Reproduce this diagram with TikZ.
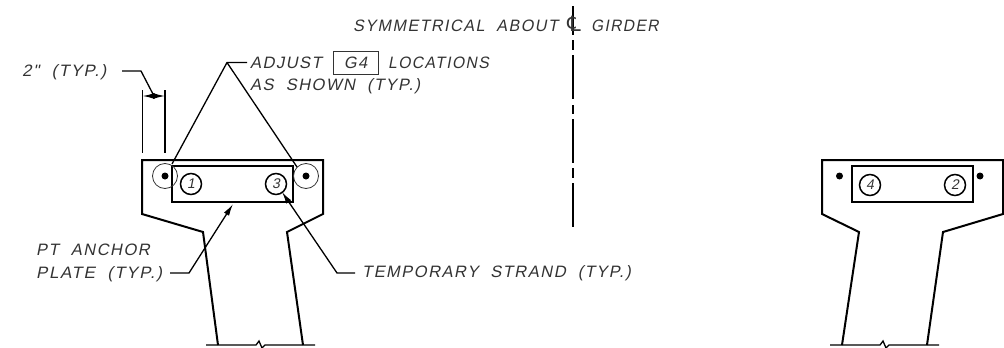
\documentclass[tikz,border=0pt]{standalone}
\usepackage{fontspec}
\usepackage{graphicx}
\usetikzlibrary{arrows.meta}
\newfontfamily\hand{Liberation Sans}[FakeSlant=0.2,LetterSpace=9,WordSpace=2]
\newfontfamily\symb{DejaVu Sans}
\newcommand{\fitw}[2]{\scalebox{#1}[1]{#2}}
\definecolor{ink}{HTML}{000000}
\definecolor{txt}{HTML}{333333}
\tikzset{
  heavy/.style={line width=2pt,draw=ink,line join=miter},
  thin line/.style={line width=1.3pt,draw=ink},
  label text/.style={font=\hand\fontsize{16.5}{16.5}\selectfont,text=txt,inner sep=0pt,anchor=west},
  num/.style={circle,draw=ink,line width=1.5pt,minimum size=21pt,inner sep=0pt,font=\hand\fontsize{14}{14}\selectfont,text=txt},
  ring/.style={circle,draw=txt,line width=.8pt,minimum size=25pt,inner sep=0pt},
  dot/.style={circle,fill=ink,minimum size=7pt,inner sep=0pt},
  tip/.style={-{Latex[length=12pt,width=6pt]}},
}
\begin{document}
\begin{tikzpicture}[x=1pt,y=-1pt]
\useasboundingbox (0,0) rectangle (1004,348);
% left section
\draw[heavy] (218,345) -- (203,232) -- (142,214) -- (142,160) -- (323,160) -- (323,214) -- (287,232) -- (303,345);
\draw[thin line] (206,345) -- (256,345) -- (259,341) -- (262,348) -- (265,345) -- (315,345);
\draw[heavy] (172,166) rectangle (293,202);
\node[num] (n1) at (191,184) {1};
\node[num] (n3) at (276,184) {3};
\node[ring] (r1) at (165,176) {};
\node[ring] (r2) at (306,176) {};
\node[dot] (d1) at (165,176) {};
\node[dot] (d2) at (306,176) {};
% right section
\draw[heavy] (842,345) -- (859,232) -- (822,214) -- (822,160) -- (1003,160) -- (1003,214) -- (943,232) -- (927,345);
\draw[thin line] (830,345) -- (880,345) -- (883,341) -- (886,348) -- (889,345) -- (939,345);
\draw[heavy] (852,166) rectangle (973,202);
\node[num] (n4) at (870,185) {4};
\node[num] (n2) at (955,185) {2};
\node[dot] (d3) at (839.5,176) {};
\node[dot] (d4) at (980,176) {};
% centre line
\coordinate (cla) at (573,6);
\coordinate (clb) at (573,227);
\draw[thin line,dash pattern=on 29pt off 5pt on 10pt off 5pt on 44pt off 6pt on 9pt off 5pt on 44pt off 5pt on 10pt off 5pt on 44pt] (cla) -- (clb);
% labels
\node[label text] (sym) at (353,26) {\fitw{0.98}{SYMMETRICAL ABOUT}};
\node[font=\symb\fontsize{21}{21}\selectfont,text=txt,inner sep=0pt] (cl) at (574,24) {℄};
\node[label text] (gird) at (591,26) {\fitw{0.94}{GIRDER}};
\node[label text] (two) at (22,72) {\fitw{1.03}{2" (TYP.)}};
\node[label text] (adj) at (250,63) {ADJUST};
\node[draw=txt,line width=.8pt,minimum width=45pt,minimum height=23pt,inner sep=0pt,font=\hand\fontsize{16.5}{16.5}\selectfont,text=txt] (g4) at (355.5,62.5) {G4};
\node[label text] (loc) at (388,63) {\fitw{0.95}{LOCATIONS}};
\node[label text] (as) at (250,86) {AS SHOWN (TYP.)};
\node[label text] (pt) at (36,250) {PT ANCHOR};
\node[label text] (plate) at (36,274) {\fitw{1.03}{PLATE (TYP.)}};
\node[label text] (temp) at (362,273) {TEMPORARY STRAND (TYP.)};
% dimension
\coordinate (e1a) at (142.5,90);
\coordinate (e1b) at (142.5,153);
\coordinate (e2a) at (165,90);
\coordinate (e2b) at (165,153);
\draw[thin line] (e1a) -- (e1b);
\draw[thin line] (e2a) -- (e2b);
\coordinate (dm1) at (142.5,96);
\coordinate (dm2) at (165,96);
\coordinate (dmc) at (154,96);
\draw[thin line,tip] (dmc) -- (dm1);
\draw[thin line,tip] (dmc) -- (dm2);
\coordinate (k1a) at (122,71);
\coordinate (k1b) at (141,71);
\draw[thin line] (k1a) -- (k1b) -- (dmc);
% adjust leader
\coordinate (k2a) at (247,62.5);
\coordinate (k2b) at (227,62.5);
\coordinate (t1) at (172,164);
\coordinate (t2) at (297,167);
\draw[thin line,line join=miter] (k2a) -- (k2b) -- (t1);
\draw[thin line] (k2b) -- (t2);
% anchor leader
\coordinate (k3a) at (170,273);
\coordinate (k3b) at (189,273);
\coordinate (t3) at (233,204);
\draw[thin line,tip] (k3a) -- (k3b) -- (t3);
% strand leader
\coordinate (k4a) at (355,273);
\coordinate (k4b) at (337,273);
\coordinate (t4) at (282,192);
\draw[thin line,tip] (k4a) -- (k4b) -- (t4);
\end{tikzpicture}
\end{document}
